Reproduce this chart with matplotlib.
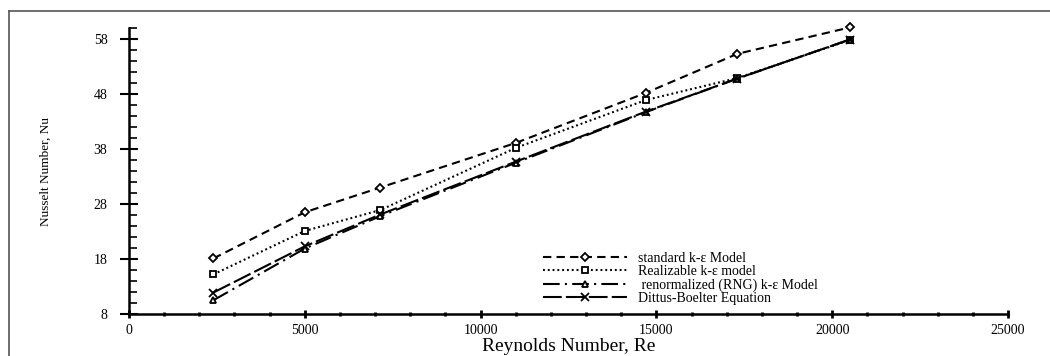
import matplotlib
matplotlib.use("Agg")
import matplotlib.pyplot as plt
from matplotlib.lines import Line2D
from matplotlib.ticker import MultipleLocator, FixedLocator

re_vals = [2400, 5000, 7150, 11000, 14700, 17300, 20500]
standard = [18.1, 26.5, 31.0, 39.1, 48.2, 55.3, 60.1]
realizable = [15.2, 23.1, 26.9, 38.2, 46.9, 50.9, 57.8]
rng = [10.5, 19.9, 25.8, 35.5, 44.7, 50.8, 57.9]
dittus = [11.9, 20.3, 26.1, 35.7, 44.8, 50.8, 57.9]

labels = ["standard k-ε Model", "Realizable k-ε model",
          " renormalized (RNG) k-ε Model", "Dittus-Boelter Equation"]
y_ticks = [8, 18, 28, 38, 48, 58]
x_ticks = [0, 5000, 10000, 15000, 20000, 25000]

plt.rcParams['font.family'] = ['Liberation Serif', 'DejaVu Serif']

W, H = 1050, 356
fig = plt.figure(figsize=(W / 100, H / 100), dpi=100)
ax = fig.add_axes([129 / W, 1 - 314 / H, (1008 - 129) / W, (314 - 28) / H])

lw = 1.5
mew = 1.3
ax.plot(re_vals, standard, color='black', lw=lw, dashes=(4, 2.5), marker='D',
        ms=4.5, mfc='white', mec='black', mew=mew, clip_on=False, label=labels[0])
ax.plot(re_vals, realizable, color='black', lw=lw, dashes=(0.9, 1.4), marker='s',
        ms=5, mfc='white', mec='black', mew=mew, clip_on=False, label=labels[1])
ax.plot(re_vals, rng, color='black', lw=lw, dashes=(8, 2.5, 1, 2.5), marker='^',
        ms=5, mfc='white', mec='black', mew=mew, clip_on=False, label=labels[2])
ax.plot(re_vals, dittus, color='black', lw=lw, dashes=(9, 2), marker='x',
        ms=6, mec='black', mew=mew, clip_on=False, label=labels[3])

ax.set_xlim(0, 25000)
ax.set_ylim(8, 60)
ax.xaxis.set_major_locator(FixedLocator(x_ticks))
ax.xaxis.set_minor_locator(MultipleLocator(1000))
ax.yaxis.set_major_locator(FixedLocator(y_ticks))
ax.yaxis.set_minor_locator(MultipleLocator(2))

for s in ['top', 'right']:
    ax.spines[s].set_visible(False)
for s in ['left', 'bottom']:
    ax.spines[s].set_linewidth(1.8)

ax.tick_params(axis='y', which='major', direction='inout', length=13, width=1.5,
               labelsize=10, pad=9)
ax.tick_params(axis='y', which='minor', direction='in', length=6, width=1.2)
ax.tick_params(axis='x', which='major', direction='inout', length=6, width=2,
               labelsize=10, pad=4)
ax.tick_params(axis='x', which='minor', direction='inout', length=2.5, width=2)

ax.set_xlabel("Reynolds Number, Re", fontsize=14, labelpad=1)
ax.set_ylabel("Nusselt Number, Nu", fontsize=9.5, labelpad=30)

leg = ax.legend(loc='upper left', bbox_to_anchor=(535 / W, 1 - 244 / H),
                bbox_transform=fig.transFigure, frameon=False, fontsize=10,
                handlelength=6.0, handletextpad=0.8, labelspacing=0.0,
                borderpad=0.1)

# figure border (top and left visible in the reference)
fig.add_artist(Line2D([9 / W, 9 / W], [0, 1 - 11 / H], transform=fig.transFigure,
                      color='#555555', lw=1.2))
fig.add_artist(Line2D([9 / W, 1], [1 - 11 / H, 1 - 11 / H], transform=fig.transFigure,
                      color='#555555', lw=1.2))

fig.savefig("out.png", dpi=100, facecolor='white')
